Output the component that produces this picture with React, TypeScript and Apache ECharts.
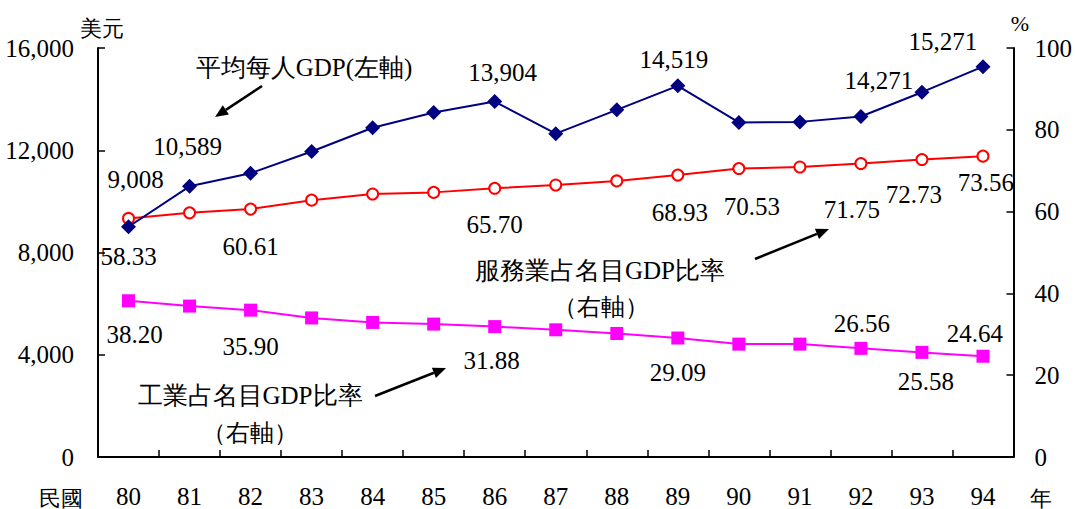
import React, { useEffect, useRef } from "react";
import * as echarts from "echarts";

const years = ["80", "81", "82", "83", "84", "85", "86", "87", "88", "89", "90", "91", "92", "93", "94"];
const gdpPerCapita = [9008, 10589, 11100, 11950, 12880, 13480, 13904, 12650, 13580, 14519, 13090, 13110, 13320, 14271, 15271];
const serviceShare = [58.33, 59.7, 60.61, 62.8, 64.3, 64.7, 65.7, 66.5, 67.5, 68.93, 70.53, 70.9, 71.75, 72.73, 73.56];
const industryShare = [38.2, 36.9, 35.9, 34.0, 32.9, 32.5, 31.88, 31.1, 30.2, 29.09, 27.6, 27.6, 26.56, 25.58, 24.64];
const leftAxisMax = 16000;
const leftAxisStep = 4000;
const rightAxisMax = 100;
const rightAxisStep = 20;

// which points carry a value label, and where it sits relative to the point
const gdpLabelOffsets: Record<number, [number, number]> = { 0: [7, -47], 1: [-2, -40], 6: [8, -29], 9: [-4, -26], 13: [-43, -12], 14: [-40, -25] };
const serviceLabelOffsets: Record<number, [number, number]> = { 0: [0, 38], 2: [0, 37], 6: [0, 36], 9: [2, 37], 10: [13, 38], 12: [-9, 46], 13: [-8, 35], 14: [3, 26] };
const industryLabelOffsets: Record<number, [number, number]> = { 0: [6, 34], 2: [0, 36], 6: [-3, 34], 9: [0, 34], 12: [1, -25], 13: [4, 29], 14: [-8, -23] };

const SERIF = "Liberation Serif";
const CJK = "Liberation Serif";

function withLabels(values: number[], offsets: Record<number, [number, number]>, fmt: (v: number) => string) {
  return values.map((v, i) => {
    const off = offsets[i];
    if (!off) return { value: v, label: { show: false } };
    return {
      value: v,
      label: {
        show: true,
        position: "inside",
        offset: off,
        formatter: () => fmt(v),
        color: "#000",
        fontFamily: SERIF,
        fontSize: 25,
        align: "center",
        verticalAlign: "middle",
      },
    };
  });
}

function arrow(x1: number, y1: number, x2: number, y2: number) {
  const ang = Math.atan2(y2 - y1, x2 - x1);
  const len = 13;
  const half = 5.5;
  const bx = x2 - len * Math.cos(ang);
  const by = y2 - len * Math.sin(ang);
  const px = -Math.sin(ang) * half;
  const py = Math.cos(ang) * half;
  return [
    { type: "line", shape: { x1, y1, x2: bx, y2: by }, style: { stroke: "#000", lineWidth: 2.5 } },
    {
      type: "polygon",
      shape: { points: [[x2, y2], [bx + px, by + py], [bx - px, by - py]] },
      style: { fill: "#000" },
    },
  ];
}

function txt(text: string, x: number, y: number, size = 24, align = "center") {
  return {
    type: "text",
    x,
    y,
    style: { text, fill: "#000", fontSize: size, fontFamily: CJK, align, verticalAlign: "middle" },
  };
}

export default function App() {
  const ref = useRef<HTMLDivElement>(null);
  useEffect(() => {
    if (!ref.current) return;
    const chart = echarts.init(ref.current, undefined, { renderer: "svg" });
    const fmtThousands = (v: number) => v.toLocaleString("en-US");
    chart.setOption({
      animation: false,
      backgroundColor: "#fff",
      grid: { left: 98, right: 60, top: 48, bottom: 50 },
      xAxis: {
        type: "category",
        data: years,
        boundaryGap: true,
        axisLine: { lineStyle: { color: "#000", width: 2 } },
        axisTick: { show: true, inside: true, length: 7, alignWithLabel: false, lineStyle: { color: "#000", width: 1.5 } },
        axisLabel: { color: "#000", fontFamily: SERIF, fontSize: 25, margin: 27 },
      },
      yAxis: [
        {
          type: "value",
          min: 0,
          max: leftAxisMax,
          interval: leftAxisStep,
          axisLine: { show: true, lineStyle: { color: "#000", width: 2 } },
          axisTick: { show: true, inside: true, length: 7, lineStyle: { color: "#000", width: 1.5 } },
          splitLine: { show: false },
          axisLabel: { color: "#000", fontFamily: SERIF, fontSize: 25, margin: 24, formatter: fmtThousands },
        },
        {
          type: "value",
          min: 0,
          max: rightAxisMax,
          interval: rightAxisStep,
          position: "right",
          axisLine: { show: true, lineStyle: { color: "#000", width: 2 } },
          axisTick: { show: true, inside: true, length: 7, lineStyle: { color: "#000", width: 1.5 } },
          splitLine: { show: false },
          axisLabel: { color: "#000", fontFamily: SERIF, fontSize: 25, margin: 21 },
        },
      ],
      series: [
        {
          name: "平均每人GDP",
          type: "line",
          yAxisIndex: 0,
          data: withLabels(gdpPerCapita, gdpLabelOffsets, fmtThousands),
          symbol: "diamond",
          symbolSize: 15,
          itemStyle: { color: "#000080" },
          lineStyle: { color: "#000080", width: 2 },
          z: 3,
        },
        {
          name: "服務業占名目GDP比率",
          type: "line",
          yAxisIndex: 1,
          data: withLabels(serviceShare, serviceLabelOffsets, (v) => v.toFixed(2)),
          symbol: "circle",
          symbolSize: 11,
          itemStyle: { color: "#fff", borderColor: "#FF0000", borderWidth: 2 },
          lineStyle: { color: "#FF0000", width: 2 },
          z: 2,
        },
        {
          name: "工業占名目GDP比率",
          type: "line",
          yAxisIndex: 1,
          data: withLabels(industryShare, industryLabelOffsets, (v) => v.toFixed(2)),
          symbol: "rect",
          symbolSize: 13,
          itemStyle: { color: "#FF00FF" },
          lineStyle: { color: "#FF00FF", width: 2 },
          z: 2,
        },
      ],
      graphic: [
        txt("美元", 102, 28, 22),
        txt("%", 1020, 23, 22),
        txt("民國", 61, 498, 22),
        txt("年", 1041, 498, 22),
        txt("平均每人GDP(左軸)", 304, 67, 25),
        txt("服務業占名目GDP比率", 600, 270, 25),
        txt("（右軸）", 601, 307, 24),
        txt("工業占名目GDP比率", 250, 395, 25),
        txt("（右軸）", 250, 433, 24),
        ...arrow(262, 86, 215, 117),
        ...arrow(755, 259, 829, 229),
        ...arrow(375, 396, 446, 368),
      ],
    });
    return () => chart.dispose();
  }, []);
  return <div ref={ref} style={{ position: "fixed", left: 0, top: 0, width: 1075, height: 509 }} />;
}
